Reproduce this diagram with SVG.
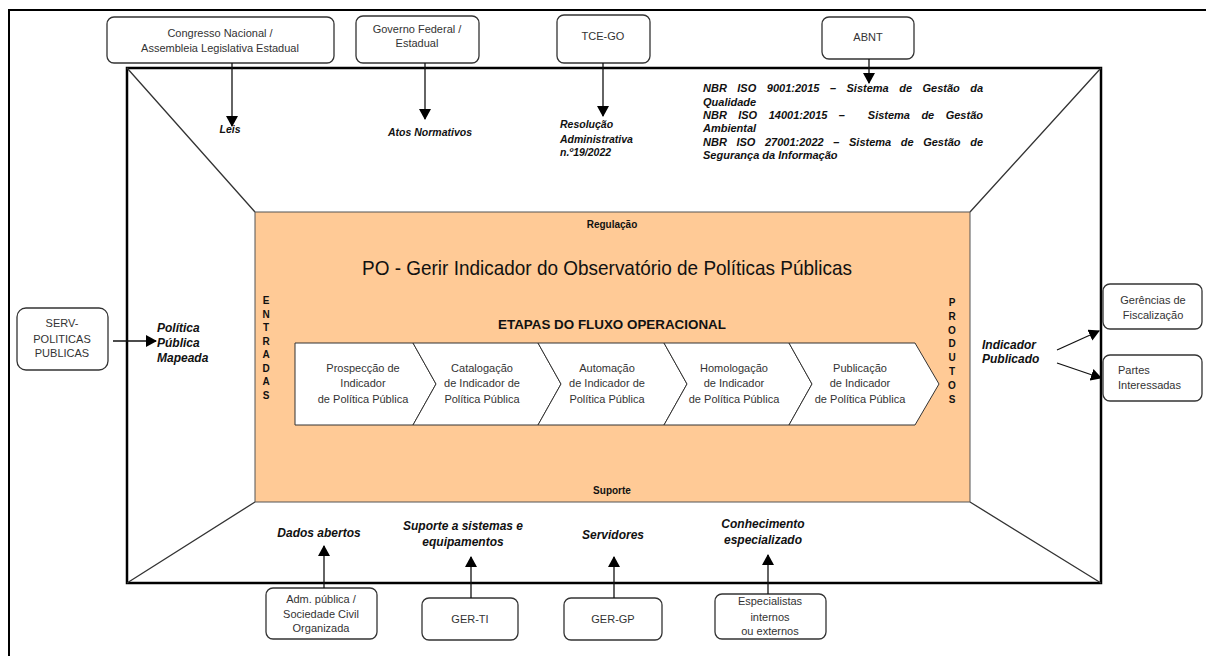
<svg xmlns="http://www.w3.org/2000/svg" width="1206" height="656" viewBox="0 0 1206 656">
<defs>
<style>
.box{fill:#fff;stroke:#333;stroke-width:1.3}
.bt{font-family:"Liberation Sans",Arial,sans-serif;font-size:11px;fill:#333}
.lbl{font-family:"Liberation Sans",Arial,sans-serif;font-size:12px;font-style:italic;font-weight:bold;fill:#111}
.lblt{font-family:"Liberation Sans",Arial,sans-serif;font-size:10.5px;font-style:italic;font-weight:bold;fill:#111}
.nbr{font-family:"Liberation Sans",Arial,sans-serif;font-size:11px;font-style:italic;font-weight:bold;fill:#111}
.vert{font-family:"Liberation Sans",Arial,sans-serif;font-size:10px;font-weight:bold;fill:#111}
.diag{stroke:#333;stroke-width:1.3;fill:none}
.conn{stroke:#111;stroke-width:1.3;fill:none;marker-end:url(#ah)}
.chev{fill:#fff;stroke:#333;stroke-width:1}
.ct{font-family:"Liberation Sans",Arial,sans-serif;font-size:11px;fill:#333}
</style>
<marker id="ah" markerUnits="userSpaceOnUse" markerWidth="11" markerHeight="12" refX="10" refY="6" orient="auto">
<path d="M0,0 L11,6 L0,12 z" fill="#000"/>
</marker>
</defs>
<rect width="1206" height="656" fill="#fff"/>
<path d="M9,656 L9,10 L1206,10" stroke="#000" stroke-width="2" fill="none"/>
<g id="frame">
<rect x="127" y="68" width="974" height="515" fill="#fff" stroke="#000" stroke-width="2.5"/>
<path class="diag" d="M127,68 L255,212 M1101,68 L970,212 M127,583 L255,502 M1101,583 L970,502"/>
</g>
<g id="process">
<rect x="255" y="212" width="715" height="290" fill="#FFCA96" stroke="#555" stroke-width="1"/>
<text x="612" y="228" text-anchor="middle" class="vert">Regulação</text>
<text x="607" y="275" text-anchor="middle" font-family="'Liberation Sans Narrow','Liberation Sans',Arial,sans-serif" font-size="21" fill="#111" textLength="490" lengthAdjust="spacingAndGlyphs">PO - Gerir Indicador do Observatório de Políticas Públicas</text>
<text x="612" y="329" text-anchor="middle" font-family="'Liberation Sans',Arial,sans-serif" font-size="13.4" font-weight="bold" fill="#111">ETAPAS DO FLUXO OPERACIONAL</text>
<text x="612" y="494" text-anchor="middle" class="vert">Suporte</text>
<g class="vert" text-anchor="middle">
<text x="266" y="304">E</text><text x="266" y="317.5">N</text><text x="266" y="331">T</text><text x="266" y="344.5">R</text><text x="266" y="358">A</text><text x="266" y="371.5">D</text><text x="266" y="385">A</text><text x="266" y="398.5">S</text>
<text x="952" y="306">P</text><text x="952" y="319.8">R</text><text x="952" y="333.6">O</text><text x="952" y="347.4">D</text><text x="952" y="361.2">U</text><text x="952" y="375">T</text><text x="952" y="388.8">O</text><text x="952" y="402.6">S</text>
</g>
</g>
<g id="step1"><path class="chev" d="M295,343 L413,343 L436,384 L413,425 L295,425 Z"/>
<text class="ct" text-anchor="middle"><tspan x="363" y="372">Prospecção de</tspan><tspan x="363" y="387">Indicador</tspan><tspan x="363" y="403">de Política Pública</tspan></text></g>
<g id="step2"><path class="chev" d="M413,343 L538,343 L561,384 L538,425 L413,425 L436,384 Z"/>
<text class="ct" text-anchor="middle"><tspan x="482" y="372">Catalogação</tspan><tspan x="482" y="387">de Indicador de</tspan><tspan x="482" y="403">Política Pública</tspan></text></g>
<g id="step3"><path class="chev" d="M538,343 L664,343 L687,384 L664,425 L538,425 L561,384 Z"/>
<text class="ct" text-anchor="middle"><tspan x="607" y="372">Automação</tspan><tspan x="607" y="387">de Indicador de</tspan><tspan x="607" y="403">Política Pública</tspan></text></g>
<g id="step4"><path class="chev" d="M664,343 L789,343 L812,384 L789,425 L664,425 L687,384 Z"/>
<text class="ct" text-anchor="middle"><tspan x="734" y="372">Homologação</tspan><tspan x="734" y="387">de Indicador</tspan><tspan x="734" y="403">de Política Pública</tspan></text></g>
<g id="step5"><path class="chev" d="M789,343 L915,343 L939,384 L915,425 L789,425 L812,384 Z"/>
<text class="ct" text-anchor="middle"><tspan x="860" y="372">Publicação</tspan><tspan x="860" y="387">de Indicador</tspan><tspan x="860" y="403">de Política Pública</tspan></text></g>

<g id="congresso"><rect class="box" x="107" y="17" width="227" height="46" rx="7"/>
<text class="bt" text-anchor="middle"><tspan x="220" y="37">Congresso Nacional /</tspan><tspan x="220" y="52">Assembleia Legislativa Estadual</tspan></text></g>
<g id="governo"><rect class="box" x="356" y="16" width="123" height="47" rx="7"/>
<text class="bt" text-anchor="middle"><tspan x="417" y="33">Governo Federal /</tspan><tspan x="417" y="47">Estadual</tspan></text></g>
<g id="tce"><rect class="box" x="557" y="15" width="93" height="48" rx="7"/>
<text class="bt" text-anchor="middle" x="603" y="40">TCE-GO</text></g>
<g id="abnt"><rect class="box" x="822" y="17" width="92" height="42" rx="7"/>
<text class="bt" text-anchor="middle" x="868" y="41">ABNT</text></g>
<g id="serv"><rect class="box" x="17" y="308" width="91" height="62" rx="9"/>
<text class="bt" text-anchor="middle"><tspan x="62" y="327">SERV-</tspan><tspan x="62" y="343">POLITICAS</tspan><tspan x="62" y="357">PUBLICAS</tspan></text></g>
<g id="gerencias"><rect class="box" x="1103" y="284" width="99" height="45" rx="7"/>
<text class="bt" text-anchor="middle"><tspan x="1153" y="304">Gerências de</tspan><tspan x="1153" y="319">Fiscalização</tspan></text></g>
<g id="partes"><rect class="box" x="1103" y="355" width="99" height="46" rx="7"/>
<text class="bt"><tspan x="1118" y="374">Partes</tspan><tspan x="1118" y="389">Interessadas</tspan></text></g>
<g id="adm"><rect class="box" x="266" y="588" width="111" height="51" rx="7"/>
<text class="bt" text-anchor="middle"><tspan x="321" y="603">Adm. pública /</tspan><tspan x="321" y="618">Sociedade Civil</tspan><tspan x="321" y="632">Organizada</tspan></text></g>
<g id="gerti"><rect class="box" x="422" y="598" width="96" height="42" rx="7"/>
<text class="bt" text-anchor="middle" x="470" y="623">GER-TI</text></g>
<g id="gergp"><rect class="box" x="564" y="598" width="98" height="42" rx="7"/>
<text class="bt" text-anchor="middle" x="613" y="623">GER-GP</text></g>
<g id="especialistas"><rect class="box" x="715" y="594" width="111" height="45" rx="7"/>
<text class="bt" text-anchor="middle"><tspan x="770" y="605">Especialistas</tspan><tspan x="770" y="621">internos</tspan><tspan x="770" y="635">ou externos</tspan></text></g>

<g id="connectors">
<path class="conn" d="M232,63 L232,126"/>
<path class="conn" d="M425,63 L425,119"/>
<path class="conn" d="M603,63 L603,116"/>
<path class="conn" d="M869,59 L869,83"/>
<path class="conn" d="M113,341 L156,341"/>
<path class="conn" d="M1057,350 L1099,331"/>
<path class="conn" d="M1057,363 L1101,378"/>
<path class="conn" d="M324,588 L324,546"/>
<path class="conn" d="M471,598 L471,557"/>
<path class="conn" d="M614,598 L614,557"/>
<path class="conn" d="M768,594 L768,555"/>
</g>

<g id="labels">
<text class="lblt" x="230" y="133" text-anchor="middle" font-size="11.5">Leis</text>
<text class="lblt" x="430" y="136" text-anchor="middle">Atos Normativos</text>
<text class="lblt"><tspan x="560" y="128">Resolução</tspan><tspan x="560" y="143">Administrativa</tspan><tspan x="560" y="156">n.º19/2022</tspan></text>
<g class="nbr">
<text y="92"><tspan x="703">NBR</tspan><tspan x="737.3">ISO</tspan><tspan x="766.8">9001:2015</tspan><tspan x="829.9">–</tspan><tspan x="846.5">Sistema</tspan><tspan x="899.2">de</tspan><tspan x="922.5">Gestão</tspan><tspan x="970.2">da</tspan></text>
<text x="703" y="105.5">Qualidade</text>
<text y="119"><tspan x="703">NBR</tspan><tspan x="738.2">ISO</tspan><tspan x="768.7">14001:2015</tspan><tspan x="838.8">–</tspan><tspan x="867.8">Sistema</tspan><tspan x="921.4">de</tspan><tspan x="945.7">Gestão</tspan></text>
<text x="703" y="132">Ambiental</text>
<text y="145.5"><tspan x="703">NBR</tspan><tspan x="736.4">ISO</tspan><tspan x="765">27001:2022</tspan><tspan x="833.3">–</tspan><tspan x="849">Sistema</tspan><tspan x="900.8">de</tspan><tspan x="923.2">Gestão</tspan><tspan x="970.2">de</tspan></text>
<text x="703" y="159">Segurança da Informação</text>
</g>
<text class="lbl"><tspan x="157" y="332">Política</tspan><tspan x="157" y="347">Pública</tspan><tspan x="157" y="362">Mapeada</tspan></text>
<text class="lbl"><tspan x="982" y="349">Indicador</tspan><tspan x="982" y="363">Publicado</tspan></text>
<text class="lbl" x="319" y="537" text-anchor="middle">Dados abertos</text>
<text class="lbl" text-anchor="middle"><tspan x="463" y="530">Suporte a sistemas e</tspan><tspan x="463" y="546">equipamentos</tspan></text>
<text class="lbl" x="613" y="539" text-anchor="middle">Servidores</text>
<text class="lbl" text-anchor="middle"><tspan x="763" y="528">Conhecimento</tspan><tspan x="763" y="544">especializado</tspan></text>
</g>
</svg>
